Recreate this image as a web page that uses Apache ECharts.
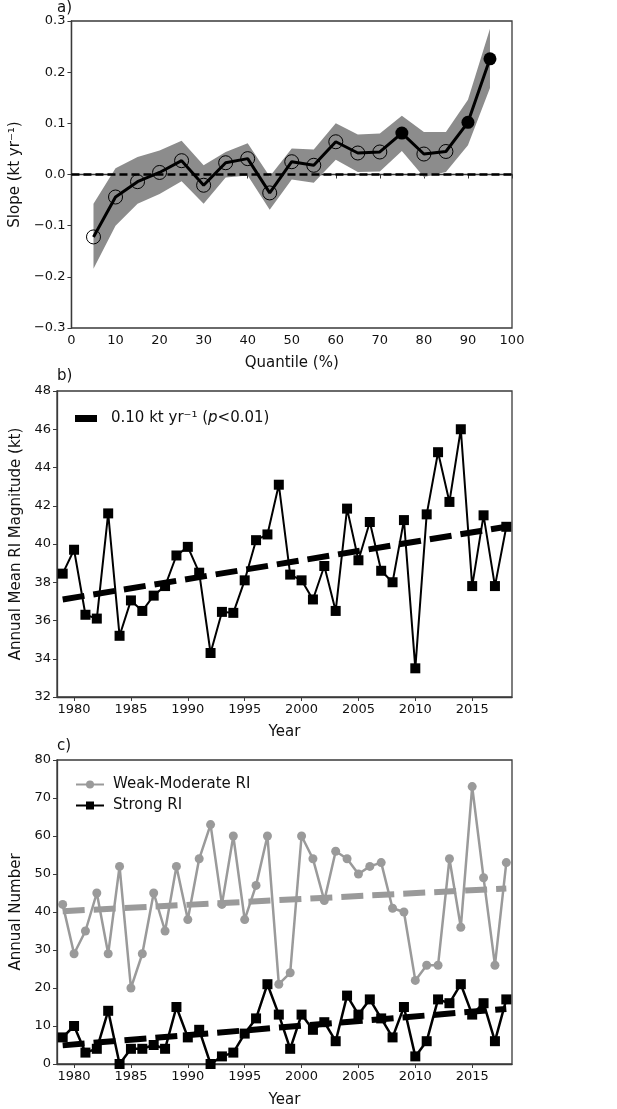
<!DOCTYPE html>
<html>
<head>
<meta charset="utf-8">
<script src="https://cdn.jsdelivr.net/npm/echarts@6/dist/echarts.min.js"></script>
<style>
html,body{margin:0;padding:0;background:#fff;}
#chart{width:617px;height:1109px;}
</style>
</head>
<body>
<div id="chart"></div>
<script>
// ---------- Panel a data ----------
const quantiles = [5,10,15,20,25,30,35,40,45,50,55,60,65,70,75,80,85,90,95];
const slopeA    = [-0.122,-0.044,-0.014,0.004,0.027,-0.021,0.023,0.031,-0.036,0.025,0.018,0.064,0.042,0.044,0.081,0.040,0.045,0.102,0.226];
const bandLowA  = [-0.184,-0.100,-0.057,-0.038,-0.013,-0.057,-0.006,-0.002,-0.069,-0.010,-0.016,0.029,0.005,0.006,0.046,-0.005,0.005,0.057,0.169];
const bandHighA = [-0.057,0.012,0.034,0.047,0.066,0.018,0.044,0.061,-0.004,0.051,0.049,0.100,0.078,0.080,0.115,0.083,0.083,0.146,0.285];
const sigA      = [0,0,0,0,0,0,0,0,0,0,0,0,0,0,1,0,0,1,1];
const ticksA_y  = [-0.3,-0.2,-0.1,0,0.1,0.2,0.3];

// ---------- Panel b data ----------
const years = [1979,1980,1981,1982,1983,1984,1985,1986,1987,1988,1989,1990,1991,1992,1993,1994,1995,1996,1997,1998,1999,2000,2001,2002,2003,2004,2005,2006,2007,2008,2009,2010,2011,2012,2013,2014,2015,2016,2017,2018];
const meanMag = [38.45,39.7,36.3,36.1,41.6,35.2,37.05,36.5,37.3,37.8,39.4,39.85,38.5,34.3,36.45,36.4,38.1,40.2,40.5,43.1,38.4,38.1,37.1,38.85,36.5,41.85,39.15,41.15,38.6,38.0,41.25,33.5,41.55,44.8,42.2,46.0,37.8,41.5,37.8,40.9];
const trendB = [[1979,37.1],[2018,40.9]];
const yearTicks = [1980,1985,1990,1995,2000,2005,2010,2015];

// ---------- Panel c data ----------
const weakMod = [42,29,35,45,29,52,20,29,45,35,52,38,54,63,42,60,38,47,60,21,24,60,54,43,56,54,50,52,53,41,40,22,26,26,54,36,73,49,26,53];
const strong  = [7,10,3,4,14,0,4,4,5,4,15,7,9,0,2,3,8,12,21,13,4,13,9,11,6,18,13,17,12,7,15,2,6,17,16,21,13,16,6,17];
const trendWeak = [[1979,40.2],[2018,46.2]];
const trendStrong = [[1979,4.9],[2018,14.5]];

const FONT = 'DejaVu Sans';
const FRAME = '#3a3a3a';
const GREY = '#9a9a9a';
const BAND = '#8c8c8c';

const pairs = (xs, ys) => xs.map((x, i) => [x, ys[i]]);
const fmtMinus = v => String(v).replace('-', '\u2212');

const grids = [
  {left: 57, top: 21, width: 455, height: 307},
  {left: 57, top: 391, width: 455, height: 306},
  {left: 57, top: 760, width: 455, height: 308}
].map(g => Object.assign(g, {show: true, borderColor: FRAME, borderWidth: 1.3, backgroundColor: 'transparent', containLabel: false}));

const axisCommon = {
  axisLine: {show: true, lineStyle: {color: FRAME, width: 1.3}},
  axisTick: {show: true, inside: false, length: 4, lineStyle: {color: FRAME, width: 1}},
  splitLine: {show: false},
  axisLabel: {color: '#111', fontFamily: FONT, fontSize: 13, margin: 6},
  nameTextStyle: {color: '#111', fontFamily: FONT, fontSize: 15},
  nameLocation: 'middle'
};
const mk = o => {
  const r = JSON.parse(JSON.stringify(axisCommon));
  for (const k in o) {
    if (typeof o[k] === 'object' && !Array.isArray(o[k]) && r[k]) Object.assign(r[k], o[k]);
    else r[k] = o[k];
  }
  return r;
};

const xAxes = [
  mk({type: 'value', gridIndex: 0, min: 0, max: 100, interval: 10, name: 'Quantile (%)', nameGap: 28}),
  mk({type: 'value', gridIndex: 1, min: 1978.5, max: 2018.5, name: 'Year', nameGap: 28,
      axisLabel: {customValues: yearTicks}, axisTick: {customValues: yearTicks}}),
  mk({type: 'value', gridIndex: 2, min: 1978.5, max: 2018.5, name: 'Year', nameGap: 29,
      axisLabel: {customValues: yearTicks}, axisTick: {customValues: yearTicks}})
];
xAxes.forEach(a => { a.axisLabel.formatter = v => String(v); });
const yAxes = [
  mk({type: 'value', gridIndex: 0, min: -0.3, max: 0.3, interval: 0.1, name: 'Slope (kt yr\u207B\u00B9)', nameGap: 37, nameRotate: 90,
      axisLabel: {customValues: ticksA_y, formatter: v => fmtMinus(Number(v).toFixed(1))}, axisTick: {customValues: ticksA_y}}),
  mk({type: 'value', gridIndex: 1, min: 32, max: 48, interval: 2, name: 'Annual Mean RI Magnitude (kt)', nameGap: 25, nameRotate: 90}),
  mk({type: 'value', gridIndex: 2, min: 0, max: 80, interval: 10, name: 'Annual Number', nameGap: 25, nameRotate: 90})
];

const bandData = quantiles.map((q, i) => [q, bandLowA[i], bandHighA[i]]);

const series = [
  // Panel a: confidence band as one polygon through the axis scales
  {name: 'band', type: 'custom', xAxisIndex: 0, yAxisIndex: 0, silent: true, z: 1,
   data: bandData, encode: {x: 0, y: [1, 2]},
   renderItem: (params, api) => {
     if (params.dataIndex !== 0) return null;
     const upper = bandData.map(d => api.coord([d[0], d[2]]));
     const lower = bandData.map(d => api.coord([d[0], d[1]])).reverse();
     return {type: 'polygon', shape: {points: upper.concat(lower)}, style: {fill: BAND, stroke: null}};
   }},
  // zero line
  {name: 'zero', type: 'line', xAxisIndex: 0, yAxisIndex: 0, data: [], silent: true, z: 2,
   markLine: {silent: true, symbol: ['none', 'none'], label: {show: false},
     lineStyle: {color: '#000', width: 2.5, type: [8, 4]}, data: [{yAxis: 0}]}},
  // slope line
  {name: 'slope', type: 'line', xAxisIndex: 0, yAxisIndex: 0, z: 3,
   data: quantiles.map((q, i) => ({
     value: [q, slopeA[i]],
     symbolSize: sigA[i] ? 13 : 14,
     itemStyle: sigA[i] ? {color: '#000', borderColor: '#000', borderWidth: 0}
                        : {color: 'rgba(0,0,0,0)', borderColor: '#000', borderWidth: 1}
   })),
   symbol: 'circle', lineStyle: {color: '#000', width: 3}},
  // Panel b
  {name: 'meanMag', type: 'line', xAxisIndex: 1, yAxisIndex: 1, data: pairs(years, meanMag),
   symbol: 'rect', symbolSize: 10, itemStyle: {color: '#000'}, lineStyle: {color: '#000', width: 2}, z: 2},
  {name: 'trendB', type: 'line', xAxisIndex: 1, yAxisIndex: 1, data: trendB, symbol: 'none',
   itemStyle: {color: '#000'}, lineStyle: {color: '#000', width: 6, type: [22, 9]}, z: 3},
  // Panel c
  {name: 'Weak-Moderate RI', type: 'line', xAxisIndex: 2, yAxisIndex: 2, data: pairs(years, weakMod),
   symbol: 'circle', symbolSize: 9, itemStyle: {color: GREY}, lineStyle: {color: GREY, width: 2.5}, z: 2},
  {name: 'Strong RI', type: 'line', xAxisIndex: 2, yAxisIndex: 2, data: pairs(years, strong),
   symbol: 'rect', symbolSize: 10, itemStyle: {color: '#000'}, lineStyle: {color: '#000', width: 2.5}, z: 2},
  {name: 'trendWeak', type: 'line', xAxisIndex: 2, yAxisIndex: 2, data: trendWeak, symbol: 'none',
   lineStyle: {color: GREY, width: 6, type: [22, 9]}, z: 3},
  {name: 'trendStrong', type: 'line', xAxisIndex: 2, yAxisIndex: 2, data: trendStrong, symbol: 'none',
   lineStyle: {color: '#000', width: 6, type: [22, 9]}, z: 3}
];

const titleStyle = {fontFamily: FONT, fontSize: 15, fontWeight: 'normal', color: '#111'};

const option = {
  animation: false,
  backgroundColor: '#fff',
  textStyle: {fontFamily: FONT},
  title: [
    {text: 'a)', left: 57, top: 1, padding: 0, textStyle: titleStyle},
    {text: 'b)', left: 57, top: 369, padding: 0, textStyle: titleStyle},
    {text: 'c)', left: 57, top: 739, padding: 0, textStyle: titleStyle}
  ],
  legend: [
    {left: 70, top: 406, orient: 'vertical', itemWidth: 22, itemHeight: 7,
     data: [{name: 'trendB', icon: 'rect', itemStyle: {color: '#000'}}],
     formatter: () => '{n|0.10 kt yr\u207B\u00B9 (}{i|p}{n|<0.01)}',
     textStyle: {padding: [0, 0, 0, 9], rich: {
       n: {fontFamily: FONT, fontSize: 15, color: '#111'},
       i: {fontFamily: FONT, fontSize: 15, color: '#111', fontStyle: 'italic'}}}},
    {left: 70, top: 772, orient: 'vertical', itemWidth: 28, itemHeight: 10, itemGap: 6,
     data: ['Weak-Moderate RI', 'Strong RI'],
     textStyle: {fontFamily: FONT, fontSize: 15, color: '#111', padding: [0, 0, 0, 4]}}
  ],
  grid: grids,
  xAxis: xAxes,
  yAxis: yAxes,
  series: series
};

const chart = echarts.init(document.getElementById('chart'), null, {renderer: 'canvas'});
chart.setOption(option);
</script>
</body>
</html>
